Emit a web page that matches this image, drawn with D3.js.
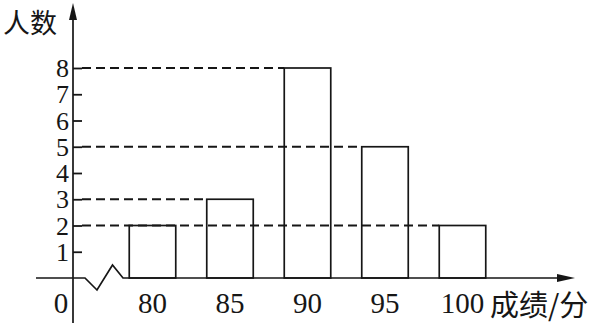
<!DOCTYPE html>
<html>
<head>
<meta charset="utf-8">
<script src="https://cdn.jsdelivr.net/npm/d3@7"></script>
<style>
  body { margin: 0; background: #fff; }
  svg { display: block; }
  .num { font-family: "Liberation Serif", "Times New Roman", "DejaVu Serif", serif; }
  .cjk { font-family: "Noto Sans CJK SC", sans-serif; }
</style>
</head>
<body>
<script>
var w = 599;
var h = 323;

// data
var scores = [80, 85, 90, 95, 100];
var counts = [2, 3, 8, 5, 2];
var yTicks = [1, 2, 3, 4, 5, 6, 7, 8];
var guideLevels = [8, 5, 3, 2];

var ink = "#161616";

var svg = d3.select("body").append("svg").attr("width", w).attr("height", h);

var xScale = d3.scaleLinear().domain([80, 100]).range([152.5, 462.5]);
var yScale = d3.scaleLinear().domain([0, 8]).range([278, 68]);
var halfBar = 1.5; // bar half width, in score units

var x0 = 73; // y axis position
var y0 = yScale(0);

// dashed guides: from the axis to the left edge of the rightmost bar with that count
svg.selectAll("line.guide")
    .data(guideLevels).enter()
    .append("line")
    .attr("class", "guide")
    .attr("x1", x0 + 9)
    .attr("x2", (d) => {
        var last = d3.max(scores.filter((s, i) => counts[i] === d));
        return xScale(last - halfBar);
    })
    .attr("y1", (d) => yScale(d))
    .attr("y2", (d) => yScale(d))
    .attr("stroke", ink)
    .attr("stroke-width", 2)
    .attr("stroke-dasharray", "9,5");

// bars (open rectangles)
svg.selectAll("rect.bar")
    .data(scores).enter()
    .append("rect")
    .attr("class", "bar")
    .attr("x", (d) => xScale(d - halfBar))
    .attr("width", (d) => xScale(d + halfBar) - xScale(d - halfBar))
    .attr("y", (d, i) => yScale(counts[i]))
    .attr("height", (d, i) => y0 - yScale(counts[i]))
    .attr("fill", "none")
    .attr("stroke", ink)
    .attr("stroke-width", 1.7);

// y axis with short ticks on the right
var yAxis = d3.axisRight(yScale)
    .tickValues(yTicks)
    .tickSize(9)
    .tickFormat("");

var gy = svg.append("g")
    .attr("transform", "translate(" + x0 + ",0)")
    .call(yAxis);
gy.select(".domain").remove();
gy.selectAll(".tick line").attr("stroke", ink).attr("stroke-width", 1.8);

svg.append("line")
    .attr("x1", x0).attr("x2", x0)
    .attr("y1", 18).attr("y2", h)
    .attr("stroke", ink).attr("stroke-width", 1.7);
svg.append("path")
    .attr("d", "M" + x0 + ",3 L" + (x0 - 4) + ",20 L" + (x0 + 4) + ",20 Z")
    .attr("fill", ink);

// y tick labels
svg.selectAll("text.ylab")
    .data(yTicks).enter()
    .append("text")
    .attr("class", "ylab num")
    .text((d) => d)
    .attr("x", x0 - 4)
    .attr("y", (d) => yScale(d) + 9)
    .attr("text-anchor", "end")
    .attr("font-size", "26px")
    .attr("fill", ink);

// x axis with the broken segment near the origin
svg.append("path")
    .attr("d", "M36," + y0 + " L85," + y0 + " L97,290 L112.5,265 L123," + y0 + " L568," + y0)
    .attr("fill", "none")
    .attr("stroke", ink).attr("stroke-width", 1.7);
svg.append("path")
    .attr("d", "M575," + y0 + " L557," + (y0 - 4) + " L557," + (y0 + 4) + " Z")
    .attr("fill", ink);

// x labels
svg.selectAll("text.xlab")
    .data(scores).enter()
    .append("text")
    .attr("class", "xlab num")
    .text((d) => d)
    .attr("x", (d) => xScale(d))
    .attr("y", 313)
    .attr("text-anchor", "middle")
    .attr("font-size", "29px")
    .attr("fill", ink);

svg.append("text")
    .attr("class", "num")
    .text("0")
    .attr("x", 61).attr("y", 313)
    .attr("text-anchor", "middle")
    .attr("font-size", "29px")
    .attr("fill", ink);

// axis titles
svg.append("text")
    .attr("class", "cjk")
    .text("人数")
    .attr("x", 3).attr("y", 33)
    .attr("font-size", "27px")
    .attr("fill", ink);

svg.append("text")
    .attr("class", "cjk")
    .text("成绩/分")
    .attr("x", 490).attr("y", 316)
    .attr("font-size", "29px")
    .attr("fill", ink);
</script>
</body>
</html>
